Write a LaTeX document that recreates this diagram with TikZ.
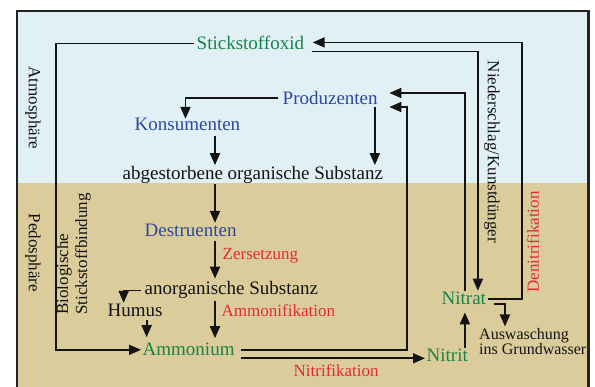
\documentclass[tikz,border=0pt]{standalone}
\usepackage{fontspec}
\setmainfont{Liberation Serif}
\usetikzlibrary{arrows.meta,calc}
\definecolor{skyb}{RGB}{225,240,245}
\definecolor{soil}{RGB}{219,204,155}
\definecolor{frm}{RGB}{35,35,35}
\definecolor{ngreen}{RGB}{22,132,72}
\definecolor{nblue}{RGB}{45,72,160}
\definecolor{nred}{RGB}{226,44,50}
\definecolor{ink}{RGB}{20,20,20}
\tikzset{
  big/.style={inner sep=1.5pt, anchor=base west, font=\fontsize{19}{21}\selectfont, text=ink},
  lab/.style={inner sep=1.5pt, anchor=base west, font=\fontsize{17}{19}\selectfont, text=nred},
  side/.style={inner sep=1.5pt, font=\fontsize{17}{19}\selectfont, text=ink},
  ln/.style={line width=1.8pt, draw=ink},
  arr/.style={ln, -{Triangle[length=12pt,width=10pt]}},
}
\begin{document}
\begin{tikzpicture}[x=1pt,y=-1pt]
\useasboundingbox (0,0) rectangle (595,387);
\fill[white] (0,0) rectangle (595,387);
\fill[skyb] (16,10) rectangle (589,183);
\fill[soil] (16,183) rectangle (589,400);
\draw[frm, line width=2.4pt] (17,400) -- (17,11) -- (588.5,11) -- (588.5,400);

% side labels
\node[side, rotate=-90] (atm) at (33,108) {Atmosphäre};
\node[side, rotate=-90] (ped) at (33,253) {Pedosphäre};
\node[side, rotate=90, align=left, font=\fontsize{17}{19}\selectfont] (bio) at (73.5,254) {Biologische\\Stickstoffbindung};
\node[side, rotate=-90] (nied) at (492,152) {Niederschlag/Kunstdünger};
\node[side, rotate=90, text=nred] (deni) at (533,242) {Denitrifikation};

% main nodes
\node[big, text=ngreen] (so) at (195,50) {Stickstoffoxid};
\node[big, text=nblue] (pro) at (281,105) {Produzenten};
\node[big, text=nblue] (kon) at (133,131) {Konsumenten};
\node[big] (abg) at (121,180) {abgestorbene organische Substanz};
\node[big, text=nblue] (des) at (143,237) {Destruenten};
\node[big] (anorg) at (143,295) {anorganische Substanz};
\node[big] (hum) at (106,317) {Humus};
\node[big, text=ngreen] (amm) at (141,356) {Ammonium};
\node[big, text=ngreen] (nitrit) at (425,362) {Nitrit};
\node[big, text=ngreen] (nitrat) at (440,305) {Nitrat};
\node[inner sep=1.5pt, anchor=north west, align=left, text=ink,
      font=\fontsize{16}{15}\selectfont] (ausw) at (477.5,326.5) {Auswaschung\\ins Grundwasser};

% edge labels
\node[lab] (zer) at (221,260) {Zersetzung};
\node[lab] (ammf) at (220,317) {Ammonifikation};
\node[lab] (nitf) at (292,377) {Nitrifikation};

% helper positions
\coordinate (lx) at (56,0);
\coordinate (cx) at (215,0);
\coordinate (px) at (407,0);
\coordinate (rx) at (522,0);
\coordinate (soin) at ([xshift=7pt,yshift=1pt]so.east);
\coordinate (soout) at ([xshift=6pt,yshift=-8pt]so.east);
\coordinate (proin1) at ([xshift=10pt,yshift=5.5pt]pro.east);
\coordinate (proin2) at ([xshift=10pt,yshift=-8.5pt]pro.east);
\coordinate (ammout1) at ([xshift=5pt]amm.east);
\coordinate (ammout2) at ([xshift=5pt,yshift=-8.5pt]amm.east);

% Stickstoffoxid -> Ammonium (biologische Stickstoffbindung)
\draw[arr] ([xshift=-1pt]so.west) -- (so.west -| lx) |- (amm.west);
% Nitrat -> Stickstoffoxid (Denitrifikation)
\draw[arr] (nitrat.east) -- (nitrat.east -| rx) -- (soin -| rx) -- (soin);
% Stickstoffoxid -> Nitrat (Niederschlag)
\draw[arr] (soout) -| ([xshift=14pt]nitrat.north);
% Nitrat -> Produzenten
\draw[arr] ([xshift=1pt]nitrat.north) |- (proin1);
% Ammonium -> Produzenten
\draw[arr] (ammout1) -| (px |- proin2) -- (proin2);
% Ammonium -> Nitrit
\draw[arr] (ammout2) -- (ammout2 -| nitrit.west);
% Produzenten -> abgestorbene
\draw[arr] ([xshift=-4.5pt]pro.south east) -- ([xshift=-4.5pt]pro.south east |- abg.north);
% Produzenten -> Konsumenten
\draw[arr] ([xshift=-3pt,yshift=0.5pt]pro.west) -| ([xshift=-2pt,yshift=-2pt]kon.north);
% vertical chain
\draw[arr] ([yshift=-3pt]kon.south -| cx) -- (abg.north -| cx);
\draw[arr] ([yshift=1.5pt]abg.south -| cx) -- (des.north -| cx);
\draw[arr] ([yshift=-2.5pt]des.south -| cx) -- ([yshift=1.5pt]anorg.north -| cx);
\draw[arr] (anorg.south -| cx) -- ([yshift=3.5pt]amm.north -| cx);
% anorganische -> Humus
\draw[arr] ([xshift=-2pt]anorg.west) -| ([xshift=-11.5pt]hum.north);
% Humus -> Ammonium
\draw[arr] ([xshift=11.5pt,yshift=-1.5pt]hum.south) -- ([xshift=11.5pt,yshift=4.5pt]hum.south |- amm.north);
% Nitrit -> Nitrat
\draw[arr] ([xshift=1pt]nitrat.south |- nitrit.north) -- ([xshift=1pt,yshift=-5.5pt]nitrat.south);
% Nitrat -> Auswaschung
\draw[arr] ([xshift=6pt,yshift=-5.5pt]nitrat.east) -| ([xshift=27.5pt]ausw.north west);
\end{tikzpicture}
\end{document}
